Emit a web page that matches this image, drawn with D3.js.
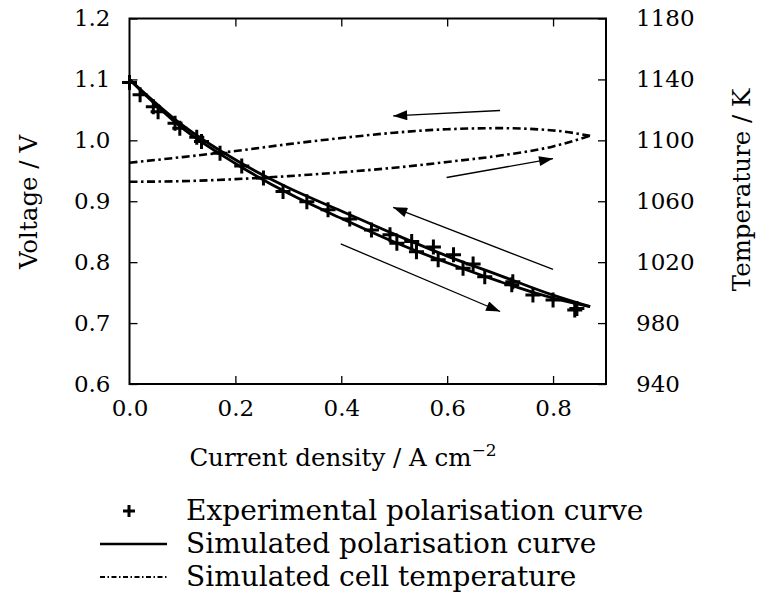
<!DOCTYPE html>
<html>
<head>
<meta charset="utf-8">
<script src="https://cdn.jsdelivr.net/npm/d3@7"></script>
<style>
body { margin: 0; background: #fff; }
text { font-family: "DejaVu Serif", serif; fill: #000; }
</style>
</head>
<body>
<svg id="chart" width="761" height="599"></svg>
<script>

// ticks
var jTicks = [0.0, 0.2, 0.4, 0.6, 0.8];
var vTicks = [0.6, 0.7, 0.8, 0.9, 1.0, 1.1, 1.2];
var tTicks = [940, 980, 1020, 1060, 1100, 1140, 1180];

// experimental polarisation curve (both sweeps)
var expJ = [0, 0.02, 0.045, 0.054, 0.086, 0.095, 0.127, 0.136, 0.171, 0.212, 0.253, 0.29, 0.335, 0.375, 0.416, 0.457, 0.492, 0.505, 0.533, 0.542, 0.574, 0.583, 0.612, 0.63, 0.649, 0.671, 0.722, 0.724, 0.762, 0.8, 0.841, 0.845];
var expV = [1.095, 1.075, 1.055, 1.047, 1.028, 1.02, 1.005, 0.998, 0.979, 0.958, 0.938, 0.916, 0.899, 0.886, 0.871, 0.853, 0.845, 0.831, 0.834, 0.817, 0.825, 0.804, 0.812, 0.79, 0.797, 0.776, 0.763, 0.768, 0.746, 0.738, 0.7215, 0.724];

// simulated polarisation curve, forward and backward sweep
var simJ = [0, 0.1, 0.2, 0.3, 0.4, 0.5, 0.6, 0.7, 0.8, 0.87];
var simVfwd = [1.1, 1.02, 0.962, 0.913, 0.872, 0.833, 0.799, 0.768, 0.741, 0.727];
var simVbwd = [1.1, 1.025, 0.968, 0.922, 0.884, 0.846, 0.81, 0.778, 0.746, 0.727];

// simulated cell temperature, forward and backward sweep
var simTfwd = [1072.8, 1073.2, 1074.5, 1076.5, 1079, 1082, 1085.8, 1090, 1096, 1103];
var simTbwd = [1085.3, 1089, 1093, 1097.5, 1101.5, 1105, 1107.3, 1108, 1106.5, 1103];

// sweep direction arrows [j1, v1, j2, v2]
var arrows = [
	[0.70, 1.049, 0.498, 1.040],
	[0.599, 0.939, 0.80, 0.970],
	[0.80, 0.788, 0.498, 0.890],
	[0.399, 0.830, 0.70, 0.719]
];

var legendLabels = ["Experimental polarisation curve", "Simulated polarisation curve", "Simulated cell temperature"];

var svg = d3.select("#chart");

var mLeft = 129.5, mRight = 606, mTop = 18.5, mBottom = 384;

var x = d3.scaleLinear().domain([0, 0.9]).range([mLeft, mRight]);
var y = d3.scaleLinear().domain([0.6, 1.2]).range([mBottom, mTop]);
var yT = d3.scaleLinear().domain([940, 1180]).range([mBottom, mTop]);

var tickFont = "23px", titleFont = "24.5px", legendFont = "28px";

// axes

function styleTicks(g, hideZero) {
	g.select(".domain").remove();
	g.selectAll(".tick line").attr("stroke-width", 1.3)
	.style("display", function (d) { return hideZero && d == 0 ? "none" : ""; });
	g.selectAll("text").style("font-size", tickFont);
}

svg.append("g")
.attr("transform", "translate(0," + mBottom + ")")
.call(d3.axisBottom(x).tickValues(jTicks).tickFormat(d3.format(".1f")).tickSizeInner(-8).tickSizeOuter(0).tickPadding(16))
.call(styleTicks, true);

svg.append("g")
.attr("transform", "translate(0," + mTop + ")")
.call(d3.axisTop(x).tickValues(jTicks).tickFormat("").tickSizeInner(-8).tickSizeOuter(0))
.call(styleTicks, true);

svg.append("g")
.attr("transform", "translate(" + mLeft + ",0)")
.call(d3.axisLeft(y).tickValues(vTicks).tickFormat(d3.format(".1f")).tickSizeInner(-8).tickSizeOuter(0).tickPadding(19))
.call(styleTicks, false);

svg.append("g")
.attr("transform", "translate(" + mRight + ",0)")
.call(d3.axisRight(yT).tickValues(tTicks).tickFormat(d3.format("d")).tickSizeInner(-8).tickSizeOuter(0).tickPadding(30))
.call(styleTicks, false);

svg.append("rect")
.attr("x", mLeft)
.attr("y", mTop)
.attr("width", mRight - mLeft)
.attr("height", mBottom - mTop)
.attr("fill", "none")
.attr("stroke", "#000")
.attr("stroke-width", 2);

// axis titles

svg.append("text")
.attr("transform", "translate(37,202) rotate(-90)")
.attr("text-anchor", "middle")
.style("font-size", titleFont)
.text("Voltage / V");

svg.append("text")
.attr("transform", "translate(750,190) rotate(-90)")
.attr("text-anchor", "middle")
.style("font-size", titleFont)
.text("Temperature / K");

var xTitle = svg.append("text")
.attr("x", 343)
.attr("y", 466)
.attr("text-anchor", "middle")
.style("font-size", titleFont);
xTitle.append("tspan").text("Current density / A cm");
xTitle.append("tspan").attr("dy", -10).style("font-size", "17px").text("\u22122");

// series

var plot = svg.append("g");

function series(vals, scale) {
	return simJ.map(function (j, i) { return [x(j), scale(vals[i])]; });
}

var line = d3.line().curve(d3.curveMonotoneX);

[simTfwd, simTbwd].forEach(function (vals) {
	plot.append("path")
	.attr("d", line(series(vals, yT)))
	.attr("fill", "none")
	.attr("stroke", "#000")
	.attr("stroke-width", 2.6)
	.attr("stroke-dasharray", "8,3.5,2.5,3.5");
});

[simVfwd, simVbwd].forEach(function (vals) {
	plot.append("path")
	.attr("d", line(series(vals, y)))
	.attr("fill", "none")
	.attr("stroke", "#000")
	.attr("stroke-width", 2.8);
});

plot.selectAll(".exp")
.data(expJ)
.enter().append("path")
.attr("class", "exp")
.attr("transform", function (d, i) { return "translate(" + x(d) + "," + y(expV[i]) + ")"; })
.attr("d", "M-7.5,0H7.5M0,-7.5V7.5")
.attr("stroke", "#000")
.attr("stroke-width", 3);

// arrows

svg.append("defs").append("marker")
.attr("id", "head")
.attr("viewBox", "0 0 14 10")
.attr("refX", 14)
.attr("refY", 5)
.attr("markerUnits", "userSpaceOnUse")
.attr("markerWidth", 16)
.attr("markerHeight", 10)
.attr("orient", "auto")
.append("path")
.attr("d", "M0,0L14,5L0,10z")
.attr("fill", "#000");

plot.selectAll(".arrow")
.data(arrows)
.enter().append("line")
.attr("class", "arrow")
.attr("x1", function (d) { return x(d[0]); })
.attr("y1", function (d) { return y(d[1]); })
.attr("x2", function (d) { return x(d[2]); })
.attr("y2", function (d) { return y(d[3]); })
.attr("stroke", "#000")
.attr("stroke-width", 1.3)
.attr("marker-end", "url(#head)");

// legend

var legend = svg.append("g");
var rowY = [511, 544, 577];

legend.append("path")
.attr("transform", "translate(129," + rowY[0] + ")")
.attr("d", "M-6,0H6M0,-6V6")
.attr("stroke", "#000")
.attr("stroke-width", 3);

legend.append("line")
.attr("x1", 100).attr("x2", 167)
.attr("y1", rowY[1]).attr("y2", rowY[1])
.attr("stroke", "#000")
.attr("stroke-width", 2.6);

legend.append("line")
.attr("x1", 100).attr("x2", 167)
.attr("y1", rowY[2]).attr("y2", rowY[2])
.attr("stroke", "#000")
.attr("stroke-width", 2)
.attr("stroke-dasharray", "5,2.5,1.5,2.5");

legend.selectAll(".label")
.data(legendLabels)
.enter().append("text")
.attr("class", "label")
.attr("x", 186)
.attr("y", function (d, i) { return rowY[i] + 9; })
.style("font-size", legendFont)
.text(function (d) { return d; });

</script>
</body>
</html>
